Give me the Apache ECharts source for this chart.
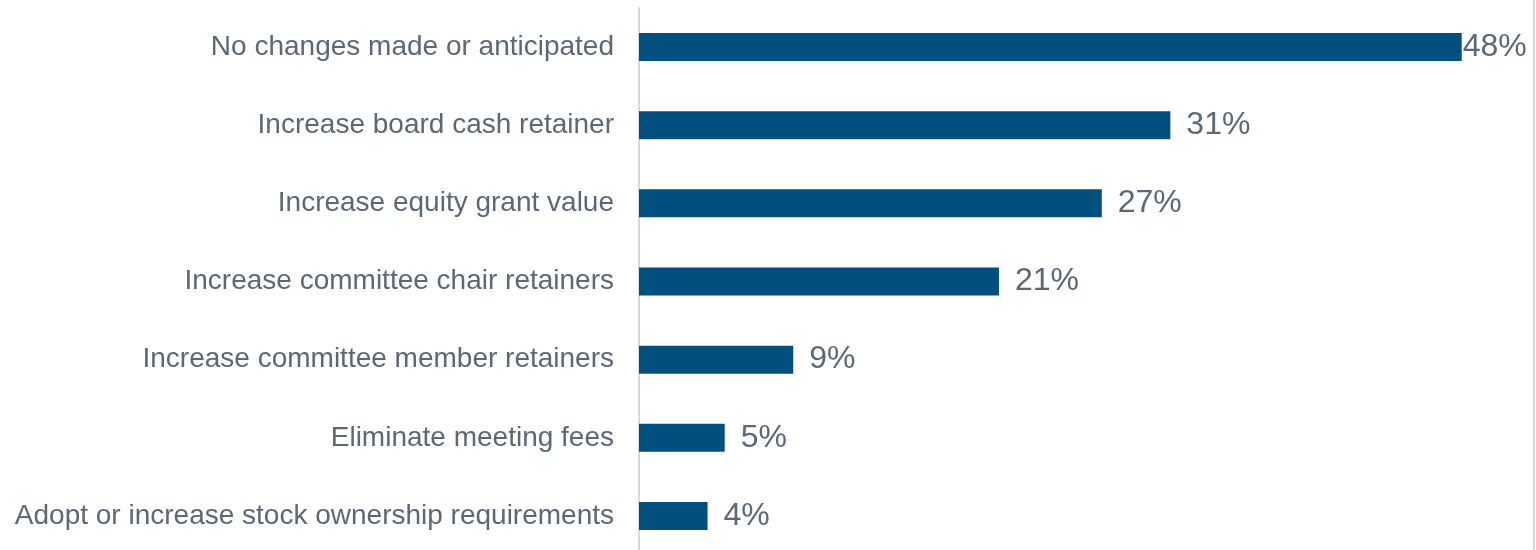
<!DOCTYPE html>
<html>
<head>
<meta charset="utf-8">
<style>
  html, body { margin: 0; padding: 0; background: #ffffff; }
  #chart { width: 1536px; height: 550px; }
</style>
<script src="https://cdn.jsdelivr.net/npm/echarts@6/dist/echarts.min.js"></script>
</head>
<body>
<div id="chart"></div>
<script>
// Board pay changes, share of companies (%)
const categories = [
  'No changes made or anticipated',
  'Increase board cash retainer',
  'Increase equity grant value',
  'Increase committee chair retainers',
  'Increase committee member retainers',
  'Eliminate meeting fees',
  'Adopt or increase stock ownership requirements'
];
const values = [48, 31, 27, 21, 9, 5, 4];

const barColor = '#004f7f';
const textColor = '#5b6875';

const chart = echarts.init(document.getElementById('chart'), null, { renderer: 'canvas' });

chart.setOption({
  animation: false,
  backgroundColor: '#ffffff',
  grid: {
    left: 639, top: 8, width: 857, height: 547,
    containLabel: false,
    outerBoundsMode: 'none'
  },
  xAxis: {
    type: 'value',
    min: 0,
    max: 50,
    show: false
  },
  yAxis: {
    type: 'category',
    data: categories,
    inverse: true,
    axisLine: { show: true, lineStyle: { color: '#d9d9d9', width: 2 } },
    axisTick: { show: false },
    axisLabel: {
      color: textColor,
      fontFamily: 'Liberation Sans, Arial, sans-serif',
      fontSize: 28,
      margin: 25
    }
  },
  series: [{
    type: 'bar',
    data: values.map((v, i) => ({
      value: v,
      label: { distance: i === 0 ? 1 : 16 }
    })),
    barWidth: 28,
    itemStyle: { color: barColor },
    label: {
      show: true,
      position: 'right',
      formatter: '{c}%',
      color: textColor,
      fontFamily: 'Liberation Sans, Arial, sans-serif',
      fontSize: 32
    }
  }],
  graphic: [{
    type: 'line',
    shape: { x1: 1534, y1: 0, x2: 1534, y2: 550 },
    style: { stroke: '#d9d9d9', lineWidth: 2 }
  }]
});
</script>
</body>
</html>
